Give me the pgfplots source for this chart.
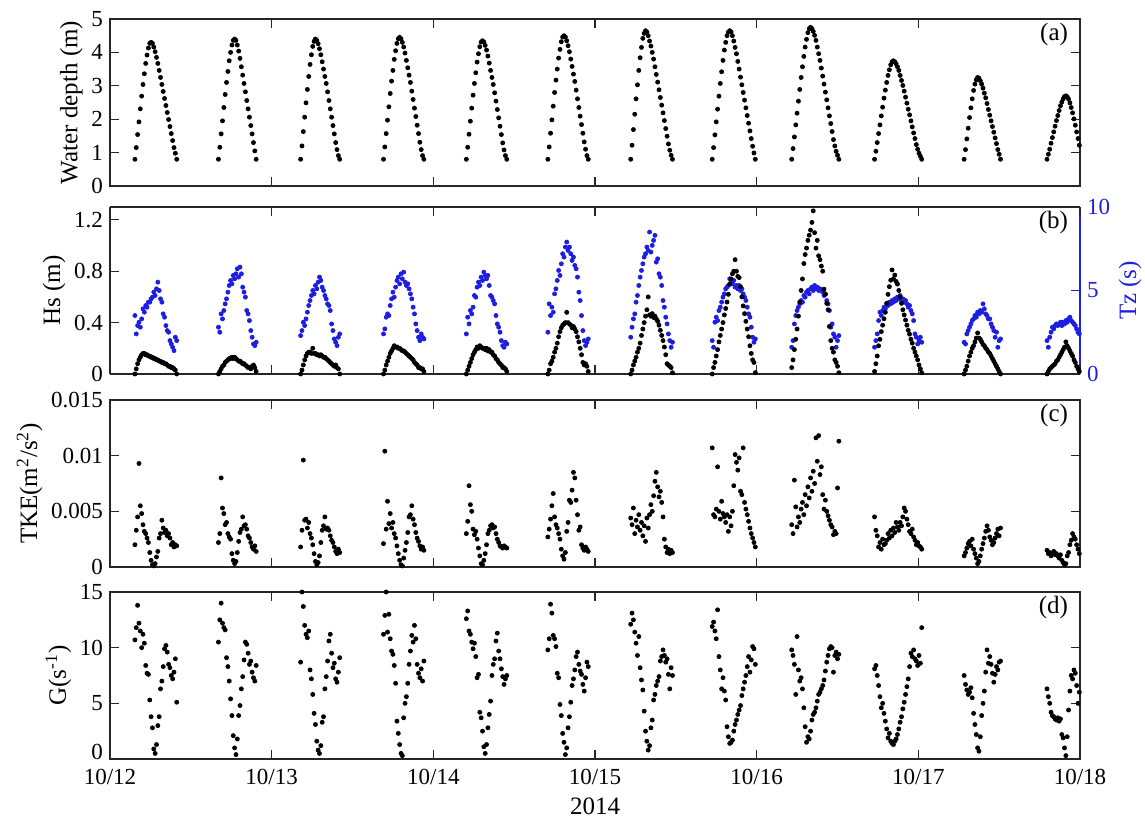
\documentclass[border=0pt]{standalone}
\usepackage{fontspec}
\setmainfont{Liberation Serif}
\usepackage{pgfplots}
\usepackage{pgfplotstable}
\pgfplotsset{compat=1.18}
\definecolor{tzblue}{RGB}{30,30,225}

% Observations every 12 min during the emerged windows of each tide.
% t: hours since 2014-10-12 00:00; d: water depth (m); hs: Hs (m);
% tz: Tz (s); tke: TKE (m^2/s^2); g: G (1/s)
\pgfplotstableread{
t d hs tz tke g
3.7 0.80 0.00 3.5 0.0020 10.7
3.9 1.15 0.04 2.4 0.0033 11.8
4.1 1.54 0.08 2.9 0.0045 13.8
4.3 1.92 0.11 3.1 0.0093 12.2
4.5 2.31 0.13 2.8 0.0055 11.5
4.7 2.69 0.15 3.3 0.0048 10.0
4.9 3.04 0.16 3.9 0.0038 11.2
5.1 3.36 0.16 3.7 0.0032 10.4
5.3 3.67 0.15 4.1 0.0030 8.4
5.5 3.92 0.15 4.0 0.0026 7.7
5.7 4.13 0.14 4.3 0.0022 7.6
5.9 4.27 0.14 4.3 0.0013 5.3
6.1 4.30 0.13 4.5 0.0006 3.8
6.3 4.27 0.13 4.6 0.0002 2.8
6.5 4.16 0.12 4.9 0.0001 0.9
6.7 4.02 0.12 4.7 0.0003 0.5
6.9 3.85 0.11 5.1 0.0009 1.3
7.1 3.67 0.11 5.5 0.0014 3.0
7.3 3.46 0.10 5.0 0.0026 3.8
7.5 3.25 0.10 4.5 0.0030 6.3
7.7 3.04 0.09 4.3 0.0042 7.0
7.9 2.83 0.09 3.6 0.0035 8.3
8.1 2.62 0.08 3.4 0.0031 9.9
8.3 2.41 0.08 2.9 0.0033 10.2
8.5 2.20 0.07 2.6 0.0028 9.6
8.7 1.99 0.06 2.5 0.0030 8.5
8.9 1.78 0.06 2.0 0.0026 8.2
9.1 1.57 0.05 1.8 0.0020 7.5
9.3 1.36 0.05 1.6 0.0022 7.2
9.5 1.15 0.04 1.4 0.0018 7.8
9.7 0.98 0.03 2.2 0.0020 9.0
9.9 0.80 0.00 2.0 0.0019 5.1
16.1 0.80 0.00 2.8 0.0022 10.5
16.3 1.16 0.02 2.5 0.0030 12.5
16.5 1.56 0.04 3.6 0.0080 14.0
16.7 1.95 0.06 3.3 0.0053 12.2
16.9 2.35 0.07 3.8 0.0048 11.8
17.1 2.74 0.09 4.2 0.0038 11.6
17.3 3.10 0.10 4.5 0.0040 9.1
17.5 3.43 0.11 4.9 0.0030 8.3
17.7 3.75 0.12 5.3 0.0027 7.0
17.9 4.00 0.12 5.6 0.0025 5.4
18.1 4.22 0.13 5.4 0.0012 3.9
18.3 4.36 0.12 5.9 0.0006 2.1
18.5 4.40 0.13 5.7 0.0003 1.0
18.7 4.36 0.12 6.0 0.0005 0.4
18.9 4.22 0.11 6.3 0.0013 1.8
19.1 4.04 0.10 5.8 0.0023 3.9
19.3 3.82 0.10 6.4 0.0031 4.8
19.5 3.57 0.09 6.0 0.0034 6.3
19.7 3.32 0.08 5.2 0.0045 7.4
19.9 3.07 0.08 4.9 0.0037 8.9
20.1 2.82 0.07 4.6 0.0038 10.5
20.3 2.56 0.06 3.8 0.0034 10.3
20.5 2.31 0.05 3.6 0.0028 9.5
20.7 2.06 0.05 3.2 0.0026 8.5
20.9 1.81 0.04 2.6 0.0022 8.8
21.1 1.56 0.06 2.2 0.0018 7.8
21.3 1.30 0.07 1.8 0.0016 7.3
21.5 1.05 0.05 1.7 0.0019 7.0
21.7 0.80 0.02 1.9 0.0014 8.4
28.3 0.80 0.00 2.3 0.0018 8.7
28.5 1.20 0.03 2.6 0.0033 15.0
28.7 1.63 0.07 3.1 0.0096 13.7
28.9 2.06 0.11 2.9 0.0042 12.0
29.1 2.49 0.14 3.3 0.0043 11.2
29.3 2.89 0.16 3.7 0.0035 10.9
29.5 3.28 0.17 4.1 0.0040 11.5
29.7 3.64 0.17 4.4 0.0030 8.0
29.9 3.93 0.16 4.7 0.0026 7.2
30.1 4.18 0.20 5.0 0.0020 5.8
30.3 4.33 0.16 4.8 0.0012 4.1
30.5 4.40 0.16 5.3 0.0005 3.1
30.7 4.36 0.15 5.1 0.0002 1.6
30.9 4.26 0.15 5.5 0.0004 0.8
31.1 4.11 0.14 5.8 0.0010 0.5
31.3 3.93 0.15 5.6 0.0022 1.2
31.5 3.72 0.14 5.2 0.0033 3.3
31.7 3.50 0.13 5.0 0.0037 3.8
31.9 3.28 0.13 4.7 0.0045 6.3
32.1 3.07 0.12 4.5 0.0034 7.4
32.3 2.82 0.11 4.2 0.0035 8.8
32.5 2.56 0.10 4.1 0.0033 10.6
32.7 2.31 0.09 3.8 0.0028 11.2
32.9 2.06 0.08 3.0 0.0024 9.5
33.1 1.81 0.07 2.6 0.0022 8.2
33.3 1.56 0.06 2.1 0.0018 8.6
33.5 1.30 0.07 1.9 0.0014 7.2
33.7 1.09 0.05 1.7 0.0012 6.9
33.9 0.91 0.04 2.2 0.0016 7.8
34.1 0.80 0.00 2.4 0.0013 9.1
40.6 0.80 0.00 2.4 0.0021 11.2
40.8 1.17 0.03 2.7 0.0104 12.9
41.0 1.57 0.07 3.4 0.0034 15.0
41.2 1.97 0.10 3.6 0.0059 11.4
41.4 2.37 0.13 3.5 0.0039 13.0
41.6 2.77 0.16 4.1 0.0048 10.8
41.8 3.14 0.18 4.5 0.0035 9.7
42.0 3.46 0.20 4.9 0.0040 9.4
42.2 3.79 0.22 4.6 0.0030 8.4
42.4 4.05 0.21 5.2 0.0026 6.8
42.6 4.27 0.21 5.6 0.0019 3.4
42.8 4.41 0.20 5.8 0.0012 2.3
43.0 4.45 0.20 5.4 0.0006 1.3
43.2 4.41 0.19 6.0 0.0002 0.5
43.4 4.30 0.18 5.7 0.0001 0.3
43.6 4.16 0.18 6.1 0.0008 3.7
43.8 3.98 0.17 5.5 0.0015 5.0
44.0 3.76 0.16 5.3 0.0022 5.6
44.2 3.54 0.15 5.4 0.0031 6.8
44.4 3.32 0.14 5.1 0.0045 8.5
44.6 3.10 0.13 4.8 0.0047 9.7
44.8 2.84 0.12 4.5 0.0055 11.1
45.0 2.59 0.11 4.0 0.0043 10.5
45.2 2.33 0.09 3.6 0.0038 12.0
45.4 2.08 0.08 3.0 0.0031 10.8
45.6 1.82 0.07 2.6 0.0026 8.5
45.8 1.57 0.05 2.2 0.0023 7.7
46.0 1.31 0.05 2.0 0.0019 7.3
46.2 1.09 0.04 2.4 0.0016 8.1
46.4 0.91 0.04 2.2 0.0018 7.0
46.6 0.80 0.02 2.1 0.0015 8.8
52.9 0.80 0.00 2.4 0.0030 12.6
53.1 1.16 0.03 3.4 0.0041 13.3
53.3 1.55 0.06 3.0 0.0073 11.5
53.5 1.94 0.09 3.8 0.0056 11.2
53.7 2.33 0.12 3.6 0.0050 10.5
53.9 2.72 0.15 4.0 0.0034 9.9
54.1 3.07 0.17 4.7 0.0029 10.4
54.3 3.39 0.19 4.6 0.0032 9.2
54.5 3.71 0.21 5.2 0.0025 7.3
54.7 3.96 0.20 5.5 0.0017 7.6
54.9 4.17 0.22 5.3 0.0010 4.2
55.1 4.31 0.21 5.8 0.0003 3.7
55.3 4.35 0.20 5.6 0.0002 2.5
55.5 4.31 0.20 6.1 0.0006 1.1
55.7 4.21 0.19 5.9 0.0012 0.5
55.9 4.07 0.20 5.7 0.0020 1.3
56.1 3.89 0.18 5.9 0.0030 2.8
56.3 3.68 0.19 5.3 0.0033 4.0
56.5 3.46 0.17 4.7 0.0037 5.2
56.7 3.25 0.17 4.6 0.0038 7.5
56.9 3.04 0.15 4.4 0.0035 8.5
57.1 2.79 0.14 4.2 0.0036 9.0
57.3 2.54 0.12 3.5 0.0030 10.6
57.5 2.29 0.11 3.0 0.0025 11.3
57.7 2.04 0.09 2.8 0.0022 9.7
57.9 1.79 0.08 2.5 0.0019 9.0
58.1 1.54 0.07 2.0 0.0018 8.1
58.3 1.29 0.05 1.7 0.0017 7.4
58.5 1.08 0.05 1.6 0.0019 6.7
58.7 0.91 0.04 1.9 0.0018 7.2
58.9 0.80 0.02 1.8 0.0017 7.5
65.0 0.80 0.00 2.5 0.0027 9.8
65.2 1.17 0.03 4.2 0.0034 10.8
65.4 1.58 0.08 3.5 0.0043 13.9
65.6 1.98 0.10 4.0 0.0055 13.1
65.8 2.39 0.13 3.7 0.0066 11.1
66.0 2.80 0.17 4.8 0.0045 10.8
66.2 3.17 0.20 5.1 0.0038 10.1
66.4 3.50 0.24 5.6 0.0035 7.7
66.6 3.83 0.29 6.2 0.0030 7.3
66.8 4.09 0.33 5.9 0.0025 4.9
67.0 4.32 0.36 6.6 0.0016 3.9
67.2 4.46 0.38 7.2 0.0010 2.3
67.4 4.50 0.39 7.0 0.0007 1.5
67.6 4.46 0.40 7.6 0.0013 0.4
67.8 4.35 0.48 7.9 0.0032 1.0
68.0 4.20 0.40 7.4 0.0040 2.8
68.2 4.02 0.39 7.6 0.0060 3.8
68.4 3.80 0.38 7.2 0.0058 5.1
68.6 3.58 0.36 6.8 0.0069 6.6
68.8 3.35 0.37 7.0 0.0085 7.2
69.0 3.13 0.35 6.5 0.0080 8.0
69.2 2.87 0.33 6.3 0.0060 9.2
69.4 2.61 0.29 5.8 0.0047 9.6
69.6 2.35 0.25 4.9 0.0033 8.5
69.8 2.09 0.20 4.4 0.0036 7.9
70.0 1.84 0.15 3.5 0.0020 7.6
70.2 1.58 0.09 2.6 0.0017 6.7
70.4 1.32 0.07 2.0 0.0015 6.1
70.6 1.10 0.08 1.7 0.0018 7.3
70.8 0.91 0.06 1.9 0.0016 8.7
71.0 0.80 0.02 2.1 0.0014 8.3
77.3 0.80 0.00 2.2 0.0044 12.1
77.5 1.22 0.03 2.8 0.0038 13.1
77.7 1.69 0.07 3.3 0.0053 12.5
77.9 2.15 0.10 3.6 0.0030 11.4
78.1 2.61 0.13 4.3 0.0042 10.4
78.3 3.03 0.17 4.7 0.0036 9.3
78.5 3.46 0.20 5.3 0.0047 11.0
78.7 3.84 0.24 5.8 0.0033 8.2
78.9 4.15 0.30 6.2 0.0040 7.1
79.1 4.42 0.35 6.6 0.0028 6.2
79.3 4.57 0.40 7.0 0.0037 4.3
79.5 4.65 0.45 7.2 0.0023 2.5
79.7 4.61 0.50 7.6 0.0044 1.6
79.9 4.50 0.60 7.4 0.0035 0.8
80.1 4.34 0.46 8.5 0.0047 1.2
80.3 4.19 0.45 7.3 0.0056 2.8
80.5 4.00 0.47 7.7 0.0050 3.5
80.7 3.80 0.44 8.0 0.0064 5.3
80.9 3.57 0.45 8.3 0.0077 5.8
81.1 3.34 0.43 6.7 0.0085 6.6
81.3 3.11 0.41 6.9 0.0072 7.0
81.5 2.88 0.38 6.0 0.0063 7.4
81.7 2.65 0.34 5.8 0.0068 8.8
81.9 2.42 0.30 5.3 0.0058 9.2
82.1 2.19 0.26 4.4 0.0045 9.8
82.3 1.96 0.21 4.0 0.0025 9.3
82.5 1.72 0.15 3.4 0.0018 8.7
82.7 1.49 0.08 3.0 0.0013 9.0
82.9 1.26 0.07 2.4 0.0016 7.6
83.1 1.07 0.06 2.0 0.0012 6.3
83.3 0.92 0.05 1.6 0.0015 8.2
83.5 0.80 0.01 1.9 0.0013 7.5
89.4 0.80 0.00 2.0 0.0107 11.9
89.6 1.15 0.05 1.6 0.0047 12.3
89.8 1.53 0.09 3.1 0.0045 11.5
90.0 1.92 0.14 3.4 0.0052 10.8
90.2 2.30 0.19 3.2 0.0090 13.4
90.4 2.69 0.25 3.8 0.0050 9.2
90.6 3.07 0.30 4.0 0.0043 8.0
90.8 3.42 0.35 4.3 0.0059 6.3
91.0 3.76 0.40 4.6 0.0048 7.3
91.2 4.07 0.46 4.8 0.0045 6.1
91.4 4.30 0.51 5.1 0.0040 5.3
91.6 4.50 0.56 5.2 0.0047 2.9
91.8 4.61 0.62 5.3 0.0032 2.0
92.0 4.65 0.70 5.7 0.0045 1.4
92.2 4.61 0.74 5.5 0.0037 1.5
92.4 4.50 0.78 5.4 0.0050 1.7
92.6 4.34 0.80 5.6 0.0073 2.5
92.8 4.15 0.89 5.2 0.0101 3.1
93.0 3.96 0.80 5.3 0.0094 3.5
93.2 3.73 0.76 5.1 0.0087 4.0
93.4 3.50 0.75 5.3 0.0098 4.4
93.6 3.26 0.68 5.0 0.0068 4.8
93.8 3.03 0.60 5.1 0.0065 5.7
94.0 2.80 0.53 4.8 0.0107 6.3
94.2 2.57 0.47 4.6 0.0058 6.9
94.4 2.34 0.41 4.4 0.0052 7.5
94.6 2.11 0.35 4.0 0.0047 8.3
94.8 1.88 0.29 3.6 0.0041 9.2
95.0 1.65 0.22 3.4 0.0035 7.8
95.2 1.42 0.16 2.8 0.0030 8.9
95.4 1.19 0.11 2.2 0.0026 10.1
95.6 0.99 0.09 1.9 0.0022 9.9
95.8 0.80 0.01 2.1 0.0018 8.5
101.2 0.80 0.05 1.6 0.0038 9.8
101.4 1.12 0.11 2.0 0.0030 9.3
101.6 1.47 0.19 3.0 0.0078 8.5
101.8 1.83 0.27 3.5 0.0054 5.8
102.0 2.18 0.35 3.8 0.0036 11.0
102.2 2.54 0.45 4.0 0.0045 8.0
102.4 2.89 0.56 4.2 0.0040 7.0
102.6 3.25 0.65 4.4 0.0052 7.3
102.8 3.57 0.74 4.3 0.0058 6.3
103.0 3.88 0.86 4.7 0.0047 4.6
103.2 4.16 0.93 4.6 0.0065 2.9
103.4 4.39 0.98 4.9 0.0055 1.5
103.6 4.59 1.04 5.0 0.0072 2.0
103.8 4.71 1.08 4.8 0.0062 1.8
104.0 4.75 1.12 5.1 0.0080 2.5
104.2 4.71 1.18 5.2 0.0068 3.5
104.4 4.63 1.27 5.0 0.0086 4.0
104.6 4.51 1.10 5.3 0.0075 4.2
104.8 4.36 0.98 5.1 0.0116 4.6
105.0 4.16 1.04 5.2 0.0095 5.2
105.2 3.96 0.92 5.0 0.0118 5.8
105.4 3.76 0.89 5.1 0.0083 6.0
105.6 3.53 0.84 5.0 0.0090 6.3
105.8 3.29 0.80 4.9 0.0065 6.6
106.0 3.05 0.66 4.7 0.0052 7.1
106.2 2.81 0.62 4.8 0.0060 7.9
106.4 2.58 0.55 4.4 0.0050 8.7
106.6 2.34 0.50 4.2 0.0046 9.3
106.8 2.10 0.37 3.8 0.0042 9.9
107.0 1.87 0.26 2.8 0.0038 10.1
107.2 1.63 0.20 3.0 0.0036 10.0
107.4 1.39 0.17 2.4 0.0029 7.8
107.6 1.20 0.11 2.2 0.0032 9.3
107.8 1.04 0.09 1.6 0.0030 9.6
108.0 0.92 0.06 2.0 0.0071 9.0
108.2 0.80 0.01 2.3 0.0113 9.4
113.5 0.80 0.02 1.6 0.0045 8.1
113.7 1.04 0.08 2.0 0.0033 8.4
113.9 1.30 0.14 2.4 0.0028 7.5
114.1 1.57 0.22 3.2 0.0018 6.6
114.3 1.83 0.27 3.7 0.0022 5.6
114.5 2.10 0.33 3.5 0.0016 4.6
114.7 2.36 0.38 3.8 0.0025 5.0
114.9 2.63 0.43 4.0 0.0020 4.1
115.1 2.87 0.48 3.9 0.0021 3.4
115.3 3.10 0.55 4.2 0.0024 2.7
115.5 3.31 0.62 4.1 0.0030 1.9
115.7 3.48 0.68 4.3 0.0026 2.3
115.9 3.63 0.73 4.2 0.0033 1.6
116.1 3.72 0.81 4.4 0.0028 1.4
116.3 3.75 0.74 4.3 0.0035 1.3
116.5 3.72 0.77 4.5 0.0031 1.6
116.7 3.66 0.72 4.4 0.0040 1.8
116.9 3.57 0.70 4.6 0.0036 2.2
117.1 3.46 0.65 4.5 0.0033 2.7
117.3 3.31 0.60 4.7 0.0040 3.3
117.5 3.16 0.55 4.4 0.0037 3.8
117.7 3.01 0.50 4.5 0.0045 4.5
117.9 2.84 0.46 4.3 0.0053 5.1
118.1 2.66 0.42 4.4 0.0050 5.8
118.3 2.48 0.38 4.2 0.0043 6.5
118.5 2.30 0.34 4.0 0.0038 7.2
118.7 2.13 0.31 4.1 0.0032 8.3
118.9 1.95 0.27 3.8 0.0030 9.5
119.1 1.77 0.24 3.6 0.0034 9.2
119.3 1.59 0.20 3.2 0.0027 9.8
119.5 1.42 0.17 2.4 0.0024 9.0
119.7 1.24 0.14 2.2 0.0020 8.8
119.9 1.10 0.11 1.8 0.0022 8.4
120.1 0.98 0.07 2.0 0.0019 9.3
120.3 0.89 0.04 2.2 0.0018 8.6
120.5 0.80 0.01 1.9 0.0016 11.8
126.8 0.80 0.00 1.9 0.0010 7.5
127.0 1.09 0.03 1.8 0.0013 6.7
127.2 1.41 0.06 2.4 0.0017 6.2
127.4 1.73 0.10 2.6 0.0021 5.8
127.6 2.05 0.14 2.8 0.0023 6.0
127.8 2.34 0.17 3.0 0.0019 6.4
128.0 2.61 0.20 3.2 0.0025 5.5
128.2 2.86 0.22 3.3 0.0016 4.1
128.4 3.05 0.25 3.5 0.0012 3.1
128.6 3.18 0.28 3.4 0.0008 2.2
128.8 3.25 0.32 3.7 0.0003 1.0
129.0 3.23 0.28 3.6 0.0005 0.7
129.2 3.15 0.27 3.8 0.0010 2.0
129.4 3.05 0.25 3.7 0.0016 3.9
129.6 2.93 0.23 4.2 0.0021 5.0
129.8 2.78 0.22 3.9 0.0026 6.1
130.0 2.64 0.20 3.6 0.0032 7.8
130.2 2.47 0.19 3.5 0.0037 9.8
130.4 2.29 0.17 3.3 0.0033 8.6
130.6 2.12 0.16 3.3 0.0027 9.2
130.8 1.95 0.14 3.0 0.0024 8.5
131.0 1.78 0.12 2.8 0.0020 7.7
131.2 1.61 0.10 2.6 0.0022 6.9
131.4 1.44 0.08 2.2 0.0026 7.6
131.6 1.27 0.06 2.5 0.0030 8.3
131.8 1.09 0.04 1.6 0.0034 8.0
132.0 0.95 0.02 2.0 0.0028 8.7
132.2 0.80 0.00 2.1 0.0035 8.8
139.1 0.80 0.00 2.0 0.0015 6.3
139.3 0.95 0.02 1.6 0.0012 5.6
139.5 1.10 0.04 2.2 0.0013 5.0
139.7 1.28 0.05 2.5 0.0010 4.2
139.9 1.45 0.06 2.8 0.0012 3.9
140.1 1.62 0.07 2.7 0.0014 3.8
140.3 1.79 0.08 2.9 0.0011 3.6
140.5 1.96 0.10 3.0 0.0012 3.5
140.7 2.11 0.11 2.9 0.0010 3.7
140.9 2.26 0.13 3.0 0.0008 3.4
141.1 2.40 0.15 3.1 0.0011 3.6
141.3 2.51 0.17 2.9 0.0006 2.2
141.5 2.61 0.19 3.1 0.0004 1.9
141.7 2.68 0.21 3.0 0.0002 1.0
141.9 2.70 0.25 3.2 0.0003 0.3
142.1 2.67 0.22 3.1 0.0010 2.0
142.3 2.60 0.20 3.3 0.0013 4.4
142.5 2.49 0.18 3.4 0.0020 6.1
142.7 2.35 0.16 3.2 0.0024 7.5
142.9 2.19 0.14 3.1 0.0030 7.2
143.1 2.01 0.11 3.0 0.0027 8.0
143.3 1.82 0.09 2.9 0.0025 7.7
143.5 1.62 0.06 2.7 0.0020 6.6
143.7 1.42 0.04 2.5 0.0016 5.0
143.9 1.22 0.02 2.4 0.0012 6.0
}\obs

\pgfplotsset{
  panel/.style={
    scale only axis, width=485pt, height=83.5pt, anchor=north west,
    xmin=0, xmax=144, xtick={0,24,...,144}, xticklabels={},
    tick align=inside, major tick length=4.5pt,
    axis line style={line width=0.6pt, black!85},
    every tick/.append style={line width=0.6pt, black!85},
    tick label style={font=\fontsize{11.5}{13}\selectfont},
    xticklabel style={yshift=-1.5pt},
    label style={font=\fontsize{12.5}{14}\selectfont},
    ylabel shift=-2.5pt,
    /pgf/number format/assume math mode=true,
    scaled y ticks=false, clip=false,
  },
  dots/.style={only marks, mark=*, mark size=1pt, black, mark options={draw=none}},
}
\tikzset{panellbl/.style={anchor=north east, inner sep=0pt, font=\fontsize{12.5}{14}\selectfont}}

\begin{document}
\begin{tikzpicture}
\path[use as bounding box] (-55pt,9.5pt) rectangle (517.5pt,-401.5pt);

% (a) water depth
\begin{axis}[panel, at={(0pt,0pt)}, ymin=0, ymax=5, ytick={0,1,...,5},
  ylabel={Water depth (m)}]
  \addplot[dots] table[x=t, y=d] {\obs};
  \node[panellbl] at (rel axis cs:0.988,0.975) {(a)};
\end{axis}

% (b) zero-crossing period on the right axis
\begin{axis}[panel, at={(0pt,-94pt)}, axis y line*=right, axis x line=none,
  tick align=inside, ymin=0, ymax=10, ytick={0,5,10},
  y axis line style={tzblue, line width=0.6pt},
  ytick style={tzblue, line width=0.6pt},
  yticklabel style={text=tzblue},
  ylabel={Tz (s)}, ylabel style={text=tzblue}]
  \addplot[dots, tzblue] table[x=t, y=tz] {\obs};
\end{axis}

% (b) significant wave height on the left axis
\begin{axis}[panel, at={(0pt,-94pt)}, axis y line*=left, axis x line*=box,
  tick align=inside, ymin=0, ymax=1.3, ytick={0,0.4,0.8,1.2},
  yticklabels={0,0.4,0.8,1.2}, ylabel={Hs (m)}]
  \addplot[dots] table[x=t, y=hs] {\obs};
  \node[panellbl] at (rel axis cs:0.988,0.975) {(b)};
\end{axis}

% (c) turbulent kinetic energy
\begin{axis}[panel, at={(0pt,-190.5pt)}, ymin=0, ymax=0.015,
  ytick={0,0.005,0.01,0.015}, yticklabels={0,0.005,0.01,0.015},
  ylabel={TKE(m\textsuperscript{2}/s\textsuperscript{2})}]
  \addplot[dots] table[x=t, y=tke] {\obs};
  \node[panellbl] at (rel axis cs:0.988,0.975) {(c)};
\end{axis}

% (d) velocity gradient; the zero label sits a little above its tick
\begin{axis}[panel, at={(0pt,-286.5pt)}, ymin=0, ymax=15, ytick={0,5,10,15},
  yticklabels={\raisebox{0pt}[0pt][0pt]{0},5,10,15},
  xticklabels={10/12,10/13,10/14,10/15,10/16,10/17,10/18},
  xlabel={2014}, ylabel={G(s\textsuperscript{-1})}]
  \addplot[dots] table[x=t, y=g] {\obs};
  \node[panellbl] at (rel axis cs:0.988,0.975) {(d)};
\end{axis}
\end{tikzpicture}
\end{document}
